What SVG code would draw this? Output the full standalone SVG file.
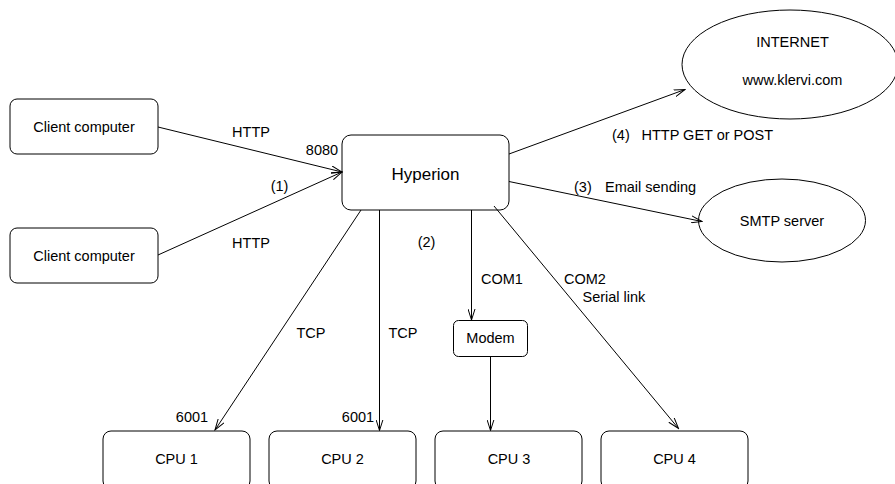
<svg xmlns="http://www.w3.org/2000/svg" width="895" height="484" viewBox="0 0 895 484">
<defs>
<marker id="arr" viewBox="0 0 12 8" refX="11" refY="4" markerWidth="12" markerHeight="8" markerUnits="userSpaceOnUse" orient="auto">
<path d="M0,0.5 L11,4 L0,7.5" fill="none" stroke="#000" stroke-width="1"/>
</marker>
<style>
.box{fill:#fff;stroke:#000;stroke-width:1}
.t{font-family:"Liberation Sans",Arial,sans-serif;font-size:14.5px;fill:#000}
.c{text-anchor:middle}
.ln{stroke:#000;stroke-width:1;fill:none;marker-end:url(#arr)}
</style>
</defs>
<rect width="895" height="484" fill="#fff"/>
<g id="client1"><rect class="box" x="10" y="99" width="148" height="55" rx="7"/><text class="t c" x="84" y="132">Client computer</text></g>
<g id="client2"><rect class="box" x="10" y="228" width="148" height="55" rx="7"/><text class="t c" x="84" y="261">Client computer</text></g>
<g id="hyperion"><rect class="box" x="342" y="135" width="167" height="75" rx="9"/><text class="t c" x="425.5" y="180" style="font-size:17px">Hyperion</text></g>
<g id="internet"><ellipse class="box" cx="790" cy="64.5" rx="108" ry="54.5"/><text class="t c" x="792.5" y="47">INTERNET</text><text class="t c" x="792.5" y="85">www.klervi.com</text></g>
<g id="smtp"><ellipse class="box" cx="782" cy="220.5" rx="83.5" ry="41.5"/><text class="t c" x="782" y="225.5">SMTP server</text></g>
<g id="modem"><rect class="box" x="453.5" y="320.5" width="74" height="36" rx="5"/><text class="t c" x="490.5" y="343">Modem</text></g>
<g id="cpu1"><rect class="box" x="103" y="431" width="147" height="58" rx="8"/><text class="t c" x="176.5" y="463.5">CPU 1</text></g>
<g id="cpu2"><rect class="box" x="269" y="431" width="147" height="58" rx="8"/><text class="t c" x="342.5" y="463.5">CPU 2</text></g>
<g id="cpu3"><rect class="box" x="435" y="431" width="147" height="58" rx="8"/><text class="t c" x="509" y="463.5">CPU 3</text></g>
<g id="cpu4"><rect class="box" x="601" y="431" width="147" height="58" rx="8"/><text class="t c" x="674.5" y="463.5">CPU 4</text></g>
<g id="connectors">
<line class="ln" x1="158" y1="127" x2="342" y2="172"/>
<line class="ln" x1="158" y1="255" x2="342" y2="172"/>
<line class="ln" x1="509" y1="154" x2="685" y2="89.5"/>
<line class="ln" x1="509" y1="181.5" x2="702" y2="221.5"/>
<line class="ln" x1="361" y1="210" x2="215" y2="430"/>
<line class="ln" x1="379.5" y1="210" x2="379.5" y2="430.5"/>
<line class="ln" x1="471.5" y1="210" x2="471.5" y2="320"/>
<line class="ln" x1="490.5" y1="356.5" x2="490.5" y2="430.5"/>
<line class="ln" x1="494" y1="206" x2="678.5" y2="428.5"/>
</g>
<g id="labels">
<text class="t c" x="251" y="137">HTTP</text>
<text class="t c" x="322" y="155">8080</text>
<text class="t c" x="279.5" y="191">(1)</text>
<text class="t c" x="251" y="248">HTTP</text>
<text class="t" x="612" y="140">(4)</text>
<text class="t" x="641.5" y="140">HTTP GET or POST</text>
<text class="t" x="574" y="191.5">(3)</text>
<text class="t" x="605" y="191.5">Email sending</text>
<text class="t c" x="426.5" y="247">(2)</text>
<text class="t c" x="311" y="338">TCP</text>
<text class="t c" x="403" y="338">TCP</text>
<text class="t c" x="192" y="422">6001</text>
<text class="t c" x="358" y="422">6001</text>
<text class="t" x="481" y="284">COM1</text>
<text class="t" x="564" y="284">COM2</text>
<text class="t" x="582.5" y="302">Serial link</text>
</g>
</svg>
